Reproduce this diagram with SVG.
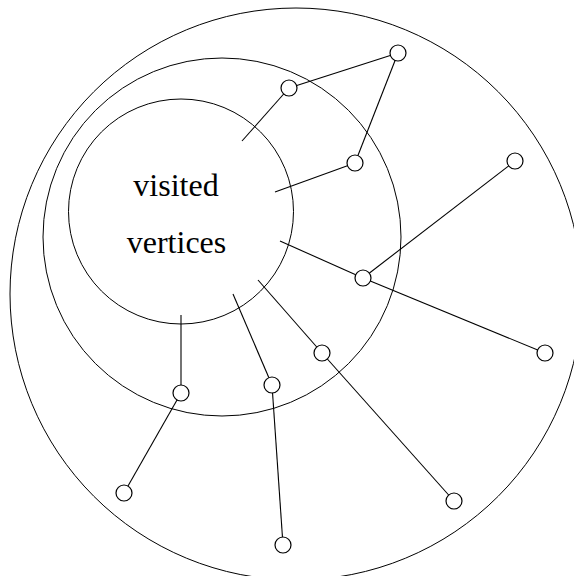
<svg xmlns="http://www.w3.org/2000/svg" width="574" height="576" viewBox="0 0 574 576">
<style>
.ring{fill:none;stroke:#000;stroke-width:1}
.node{fill:#fff;stroke:#000;stroke-width:1.2}
.edge{stroke:#000;stroke-width:1.1;fill:none}
.label{font-family:"Liberation Serif","Times New Roman",serif;font-size:32px;fill:#000;text-anchor:middle}
</style>
<rect width="574" height="576" fill="#fff"/>
<g id="rings">
<circle class="ring" cx="296" cy="294" r="286"/>
<circle class="ring" cx="222" cy="237" r="179"/>
<circle class="ring" cx="181" cy="211.5" r="112.5"/>
</g>
<g id="connectors">
<line class="edge" x1="398" y1="53" x2="289" y2="88"/>
<line class="edge" x1="398" y1="53" x2="355" y2="163"/>
<line class="edge" x1="289" y1="88" x2="242" y2="141"/>
<line class="edge" x1="355" y1="163" x2="275" y2="192"/>
<line class="edge" x1="515" y1="161" x2="363" y2="278"/>
<line class="edge" x1="280" y1="241" x2="363" y2="278"/>
<line class="edge" x1="363" y1="278" x2="545" y2="353"/>
<line class="edge" x1="258" y1="280" x2="322" y2="353"/>
<line class="edge" x1="322" y1="353" x2="454" y2="501"/>
<line class="edge" x1="233" y1="294" x2="272" y2="385"/>
<line class="edge" x1="272" y1="385" x2="283" y2="545"/>
<line class="edge" x1="181" y1="315" x2="181" y2="393"/>
<line class="edge" x1="181" y1="393" x2="124" y2="493"/>
</g>
<g id="label-visited"><text class="label" x="176" y="196">visited</text><text class="label" x="176.5" y="253">vertices</text></g>
<g id="n1"><circle class="node" cx="398" cy="53" r="8"/></g>
<g id="n2"><circle class="node" cx="289" cy="88" r="8"/></g>
<g id="n3"><circle class="node" cx="355" cy="163" r="8"/></g>
<g id="n4"><circle class="node" cx="515" cy="161" r="8"/></g>
<g id="n5"><circle class="node" cx="363" cy="278" r="8"/></g>
<g id="n6"><circle class="node" cx="545" cy="353" r="8"/></g>
<g id="n7"><circle class="node" cx="322" cy="353" r="8"/></g>
<g id="n8"><circle class="node" cx="272" cy="385" r="8"/></g>
<g id="n9"><circle class="node" cx="181" cy="393" r="8"/></g>
<g id="n10"><circle class="node" cx="124" cy="493" r="8"/></g>
<g id="n11"><circle class="node" cx="283" cy="545" r="8"/></g>
<g id="n12"><circle class="node" cx="454" cy="501" r="8"/></g>
</svg>
